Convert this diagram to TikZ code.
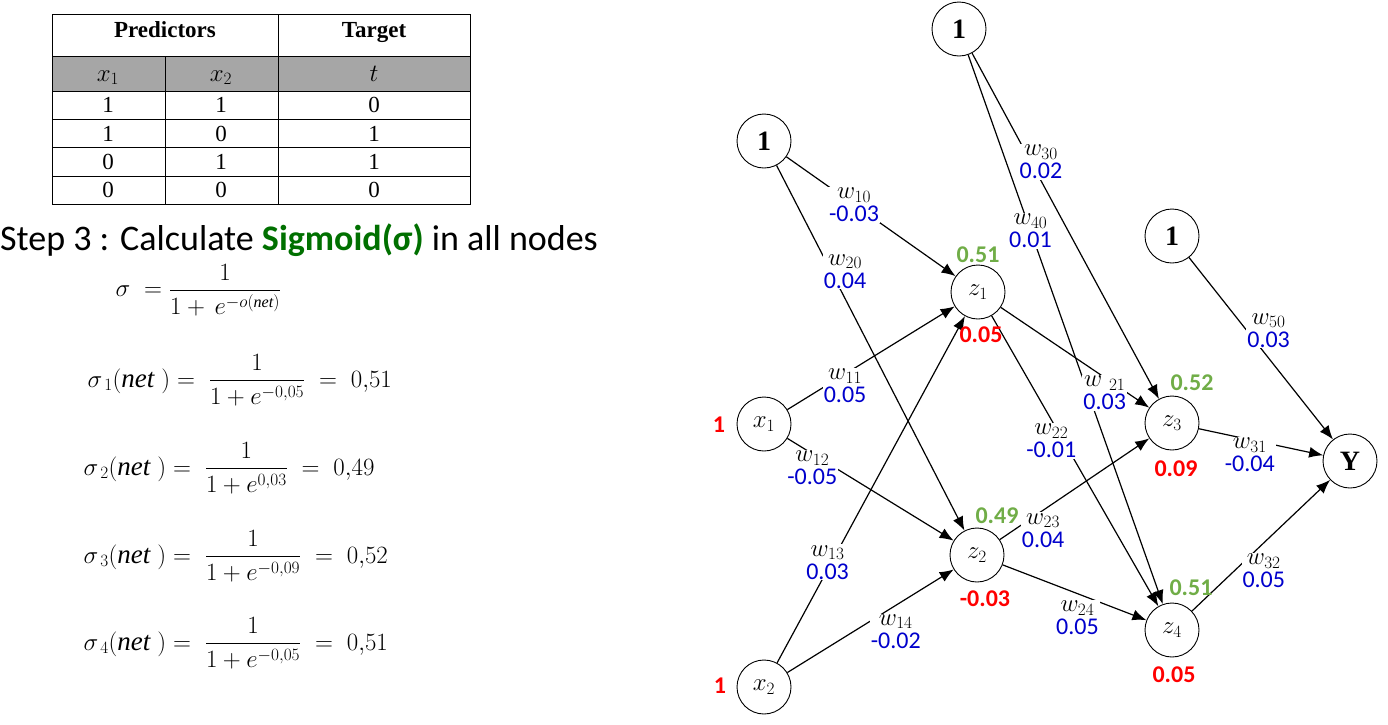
\documentclass[tikz,border=0pt]{standalone}
\usepackage{amsmath}
\usepackage{fontspec}
\setmainfont{Liberation Serif}
\newfontfamily\calib{Carlito}
\usetikzlibrary{arrows.meta}

\definecolor{wblue}{RGB}{0,0,204}
\definecolor{outgreen}{RGB}{112,173,71}
\definecolor{netred}{RGB}{255,0,0}
\definecolor{titlegreen}{RGB}{0,112,0}
\definecolor{hdrgrey}{RGB}{166,166,166}

\tikzset{
  neuron/.style={draw, circle, minimum size=54pt, inner sep=0pt, line width=0.9pt,
    font=\fontsize{25}{25}\selectfont},
  bias/.style={neuron, font=\fontsize{28}{28}\selectfont\bfseries},
  wlab/.style={fill=white, inner sep=1pt, align=center, font=\fontsize{25}{21}\selectfont},
  conn/.style={line width=1.2pt, -{Latex[length=14pt,width=11pt]}},
  outv/.style={text=outgreen, font=\calib\fontsize{24}{24}\selectfont\bfseries},
  netv/.style={text=netred, font=\calib\fontsize{24}{24}\selectfont\bfseries},
  cell/.style={font=\fontsize{23}{23}\selectfont},
  eqn/.style={anchor=west, font=\fontsize{27}{27}\selectfont},
}
\newcommand{\wval}[2]{$w_{#1}$\\[2pt]{\calib\fontsize{24}{24}\selectfont\color{wblue}#2}}
\newcommand{\sigline}[3]{$\sigma_{\,#1}\!\left(\textit{net}\;\right)=\;\dfrac{1}{1+e^{#2}}\;=\;#3$}

\begin{document}
\begin{tikzpicture}[x=1pt,y=-1pt]
 \useasboundingbox (0,0) rectangle (1388,724);

 % table of the training data
 \fill[hdrgrey] (52,56) rectangle (470,91);
 \draw[line width=1pt] (52,14) rectangle (470,204);
 \foreach \y in {56,91,119,147,176} \draw[line width=1pt] (52,\y) -- (470,\y);
 \draw[line width=1pt] (278,14) -- (278,204);
 \draw[line width=1pt] (165,56) -- (165,204);
 \node[cell,anchor=base,font=\fontsize{23}{23}\selectfont\bfseries] (pred) at (165,37) {Predictors};
 \node[cell,anchor=base,font=\fontsize{23}{23}\selectfont\bfseries] (targ) at (374,37) {Target};
 \node[cell,anchor=base] (hx1) at (108,81) {$x_1$};
 \node[cell,anchor=base] (hx2) at (221,81) {$x_2$};
 \node[cell,anchor=base] (ht) at (374,81) {$t$};
 \foreach \a/\b/\t [count=\i] in {1/1/0, 1/0/1, 0/1/1, 0/0/0}{
   \node[cell] (ra\i) at (108,{77+28.3*\i}) {\a};
   \node[cell] (rb\i) at (221,{77+28.3*\i}) {\b};
   \node[cell] (rt\i) at (374,{77+28.3*\i}) {\t};
 }

 % step text and formulas
 \node[anchor=base west, inner sep=0pt, font=\calib\fontsize{36}{36}\selectfont] (step) at (0,250)
   {Step 3 : Calculate {\bfseries\color{titlegreen}Sigmoid(σ)} in all nodes};
 \node[eqn, font=\fontsize{23}{23}\selectfont] (sig) at (112,290) {$\sigma\;=\dfrac{1}{1+\,e^{-o(\textit{net})}}$};
 \node[eqn] (sig1) at (84,380) {\sigline{1}{-0,05}{0{,}51}};
 \node[eqn] (sig2) at (80,468) {\sigline{2}{0,03}{0{,}49}};
 \node[eqn] (sig3) at (80,556) {\sigline{3}{-0,09}{0{,}52}};
 \node[eqn] (sig4) at (80,643) {\sigline{4}{-0,05}{0{,}51}};

 % network
 \node[bias] (b1) at (764,141) {1};
 \node[bias] (b2) at (959,29) {1};
 \node[bias] (b3) at (1172,236) {1};
 \node[neuron] (x1) at (764,424) {$x_1$};
 \node[neuron] (x2) at (764,687) {$x_2$};
 \node[neuron] (z1) at (978,292) {$z_1$};
 \node[neuron] (z2) at (977,555) {$z_2$};
 \node[neuron] (z3) at (1172,423) {$z_3$};
 \node[neuron] (z4) at (1172,630) {$z_4$};
 \node[bias] (y) at (1350,461) {Y};

 \node[netv] (in1) at (719,425) {1};
 \node[netv] (in2) at (720,686) {1};

 \draw[conn] (b1) -- node[wlab,pos=0.40] (l10) {\wval{10}{-0.03}} (z1);
 \draw[conn] (b1) -- node[wlab,pos=0.29,xshift=14pt] (l20) {\wval{20}{0.04}} (z2);
 \draw[conn] (b2) -- node[wlab,pos=0.315,xshift=10pt] (l30) {\wval{30}{0.02}} (z3);
 \draw[conn] (b2) -- node[wlab,pos=0.32] (l40) {\wval{40}{0.01}} (z4);
 \draw[conn] (x1) -- node[wlab,pos=0.345,yshift=-12pt] (l11) {\wval{11}{0.05}} (z1);
 \draw[conn] (x1) -- node[wlab,pos=0.15,yshift=-14pt] (l12) {\wval{12}{-0.05}} (z2);
 \draw[conn] (x2) -- node[wlab,pos=0.29,xshift=-4pt] (l13) {\wval{13}{0.03}} (z1);
 \draw[conn] (x2) -- node[wlab,pos=0.67,xshift=-3pt,yshift=-28pt] (l14) {\wval{14}{-0.02}} (z2);
 \draw[conn] (z1) -- node[wlab,pos=0.70,yshift=-15pt] (l21) {$w\;{}_{21}$\\[2pt]{\calib\fontsize{24}{24}\selectfont\color{wblue}0.03}} (z3);
 \draw[conn] (z1) -- node[wlab,pos=0.43,xshift=-12pt] (l22) {\wval{22}{-0.01}} (z4);
 \draw[conn] (z2) -- node[wlab,pos=0.29,yshift=-20pt] (l23) {\wval{23}{0.04}} (z3);
 \draw[conn] (z2) -- node[wlab,pos=0.52,yshift=-24pt] (l24) {\wval{24}{0.05}} (z4);
 \draw[conn] (b3) -- node[wlab,pos=0.40,xshift=22pt] (l50) {\wval{50}{0.03}} (y);
 \draw[conn] (z3) -- node[wlab,pos=0.41,yshift=-15pt] (l31) {\wval{31}{-0.04}} (y);
 \draw[conn] (z4) -- node[wlab,pos=0.52,yshift=-28pt] (l32) {\wval{32}{0.05}} (y);

 \node[outv] (o1) at (978,255) {0.51};
 \node[netv] (n1) at (981,335) {0.05};
 \node[outv] (o2) at (997,516) {0.49};
 \node[netv] (n2) at (985,599) {-0.03};
 \node[outv] (o3) at (1192,383) {0.52};
 \node[netv] (n3) at (1176,469) {0.09};
 \node[outv] (o4) at (1191,588) {0.51};
 \node[netv] (n4) at (1174,675) {0.05};

\end{tikzpicture}
\end{document}
